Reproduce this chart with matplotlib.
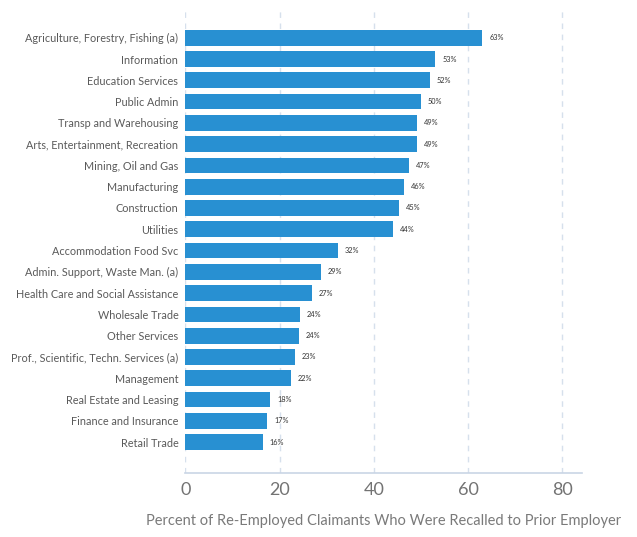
import matplotlib
matplotlib.use("Agg")
import matplotlib.pyplot as plt

industries = [
    "Agriculture, Forestry, Fishing (a)",
    "Information",
    "Education Services",
    "Public Admin",
    "Transp and Warehousing",
    "Arts, Entertainment, Recreation",
    "Mining, Oil and Gas",
    "Manufacturing",
    "Construction",
    "Utilities",
    "Accommodation Food Svc",
    "Admin. Support, Waste Man. (a)",
    "Health Care and Social Assistance",
    "Wholesale Trade",
    "Other Services",
    "Prof., Scientific, Techn. Services (a)",
    "Management",
    "Real Estate and Leasing",
    "Finance and Insurance",
    "Retail Trade",
]
recall_pct = [63.0, 53.0, 51.9, 49.9, 49.2, 49.1, 47.4, 46.4, 45.3, 44.0,
              32.4, 28.8, 26.9, 24.3, 24.1, 23.2, 22.4, 18.0, 17.4, 16.4]
x_ticks = [0, 20, 40, 60, 80]
x_label = "Percent of Re-Employed Claimants Who Were Recalled to Prior Employer"

plt.rcParams["font.family"] = ["Lato", "DejaVu Sans"]

fig = plt.figure(figsize=(6.37, 5.37), dpi=100)
ax = fig.add_axes([0.2909, 0.1186, 0.6232, 0.8665])

pos = list(range(len(industries)))
ax.barh(pos, recall_pct, height=0.74, color="#2890d2", zorder=3)

for y, v in zip(pos, recall_pct):
    ax.annotate(f"{round(v)}%", xy=(v, y), xytext=(5, 0), textcoords="offset points",
                va="center", ha="left", fontsize=5.3, color="#333333", zorder=4)

ax.set_xlim(0, 84.2)
ax.set_ylim(len(industries) - 1 + 1.47, -1.4)

ax.set_yticks(pos)
ax.set_yticklabels(industries, fontsize=7.8, color="#5a5a5a")
ax.tick_params(axis="y", length=0, pad=5)

ax.set_xticks(x_ticks)
ax.set_xticklabels([str(t) for t in x_ticks], fontsize=13, color="#737373")
ax.tick_params(axis="x", length=0, pad=6)

ax.grid(axis="x", color="#d6e0ec", linestyle=(0, (4, 4)), linewidth=1, zorder=0)
ax.grid(axis="y", visible=False)

for s in ["top", "right", "left"]:
    ax.spines[s].set_visible(False)
ax.spines["bottom"].set_color("#c9d5e5")
ax.spines["bottom"].set_linewidth(1.2)

ax.set_xlabel(x_label, fontsize=10.5, color="#7a7a7a", labelpad=12)

fig.savefig("out.png", dpi=100)
